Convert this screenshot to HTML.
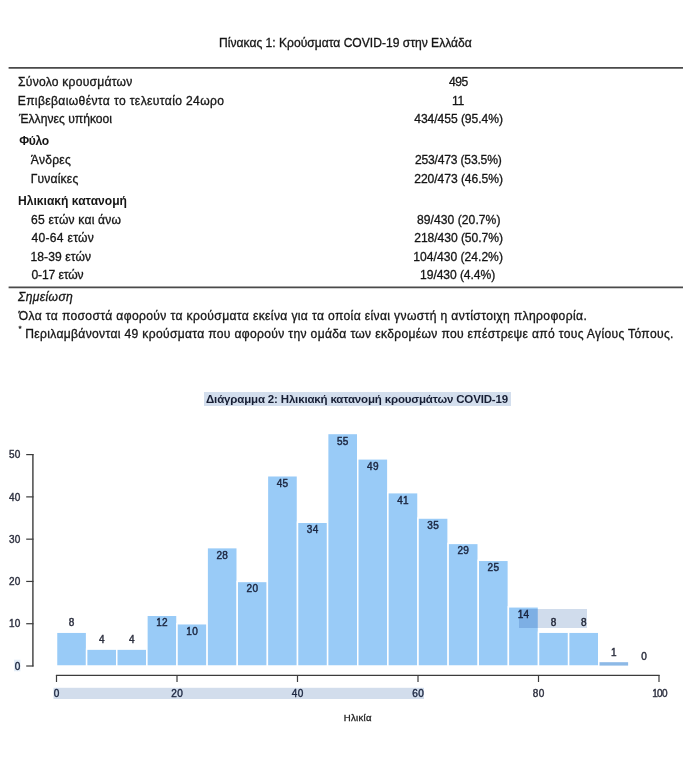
<!DOCTYPE html>
<html><head><meta charset="utf-8">
<style>
html,body{margin:0;padding:0;background:#fff;}
body{width:700px;height:774px;position:relative;overflow:hidden;font-family:"Liberation Sans",sans-serif;}
.t{position:absolute;white-space:nowrap;-webkit-text-stroke:0.3px currentColor;}
.r{position:absolute;}
</style></head><body>
<div class="t" style="left:219.10px;top:36.74px;font-size:12.1px;line-height:12.1px;letter-spacing:-0.005px;color:#151515;">Πίνακας 1: Κρούσματα COVID-19 στην Ελλάδα</div>
<svg class="r" style="left:0;top:0" width="700" height="300"><line x1="8.6" y1="67.8" x2="683" y2="67.8" stroke="#4a4a4a" stroke-width="1.7"/><line x1="8.6" y1="287.3" x2="683" y2="287.3" stroke="#4a4a4a" stroke-width="1.7"/></svg>
<div class="t" style="left:18.07px;top:75.74px;font-size:12.1px;line-height:12.1px;letter-spacing:0.239px;color:#151515;">Σύνολο κρουσμάτων</div>
<div class="t" style="left:449.00px;top:75.74px;font-size:12.1px;line-height:12.1px;letter-spacing:-0.440px;color:#151515;">495</div>
<div class="t" style="left:17.71px;top:94.74px;font-size:12.1px;line-height:12.1px;letter-spacing:0.371px;color:#151515;">Επιβεβαιωθέντα το τελευταίο 24ωρο</div>
<div class="t" style="left:452.10px;top:94.74px;font-size:12.1px;line-height:12.1px;letter-spacing:-0.300px;color:#151515;">11</div>
<div class="t" style="left:18.98px;top:113.24px;font-size:12.1px;line-height:12.1px;letter-spacing:0.029px;color:#151515;">Έλληνες υπήκοοι</div>
<div class="t" style="left:414.22px;top:113.24px;font-size:12.1px;line-height:12.1px;letter-spacing:-0.051px;color:#151515;">434/455 (95.4%)</div>
<div class="t" style="left:19.17px;top:135.18px;font-size:12.1px;line-height:12.1px;font-weight:bold;-webkit-text-stroke:0;letter-spacing:-0.330px;color:#151515;">Φύλο</div>
<div class="t" style="left:30.83px;top:153.74px;font-size:12.1px;line-height:12.1px;letter-spacing:0.234px;color:#151515;">Άνδρες</div>
<div class="t" style="left:415.00px;top:153.74px;font-size:12.1px;line-height:12.1px;letter-spacing:-0.193px;color:#151515;">253/473 (53.5%)</div>
<div class="t" style="left:30.71px;top:173.18px;font-size:12.1px;line-height:12.1px;letter-spacing:0.180px;color:#151515;">Γυναίκες</div>
<div class="t" style="left:414.22px;top:173.18px;font-size:12.1px;line-height:12.1px;letter-spacing:-0.051px;color:#151515;">220/473 (46.5%)</div>
<div class="t" style="left:18.07px;top:194.86px;font-size:12.1px;line-height:12.1px;font-weight:bold;-webkit-text-stroke:0;letter-spacing:-0.008px;color:#151515;">Ηλικιακή κατανομή</div>
<div class="t" style="left:31.05px;top:213.70px;font-size:12.1px;line-height:12.1px;letter-spacing:0.206px;color:#151515;">65 ετών και άνω</div>
<div class="t" style="left:417.00px;top:213.70px;font-size:12.1px;line-height:12.1px;letter-spacing:0.055px;color:#151515;">89/430 (20.7%)</div>
<div class="t" style="left:31.39px;top:232.22px;font-size:12.1px;line-height:12.1px;letter-spacing:0.300px;color:#151515;">40-64 ετών</div>
<div class="t" style="left:414.22px;top:232.22px;font-size:12.1px;line-height:12.1px;letter-spacing:-0.051px;color:#151515;">218/430 (50.7%)</div>
<div class="t" style="left:30.49px;top:251.16px;font-size:12.1px;line-height:12.1px;letter-spacing:0.080px;color:#151515;">18-39 ετών</div>
<div class="t" style="left:413.32px;top:251.16px;font-size:12.1px;line-height:12.1px;letter-spacing:0.013px;color:#151515;">104/430 (24.2%)</div>
<div class="t" style="left:31.39px;top:269.16px;font-size:12.1px;line-height:12.1px;letter-spacing:-0.113px;color:#151515;">0-17 ετών</div>
<div class="t" style="left:420.10px;top:269.16px;font-size:12.1px;line-height:12.1px;letter-spacing:-0.075px;color:#151515;">19/430 (4.4%)</div>
<div class="t" style="left:18.00px;top:290.96px;font-size:12.1px;line-height:12.1px;font-style:italic;letter-spacing:0.399px;color:#151515;">Σημείωση</div>
<div class="t" style="left:18.78px;top:309.74px;font-size:12.1px;line-height:12.1px;letter-spacing:0.369px;color:#151515;">Όλα τα ποσοστά αφορούν τα κρούσματα εκείνα για τα οποία είναι γνωστή η αντίστοιχη πληροφορία.</div>
<div class="t" style="left:18.60px;top:325.43px;font-size:8px;line-height:8px;color:#151515;">*</div>
<div class="t" style="left:25.20px;top:328.24px;font-size:12.1px;line-height:12.1px;letter-spacing:0.335px;color:#151515;">Περιλαμβάνονται 49 κρούσματα που αφορούν την ομάδα των εκδρομέων που επέστρεψε από τους Αγίους Τόπους.</div>
<div class="r" style="left:203.50px;top:391.70px;width:307.50px;height:14.50px;background:#d3deed;"></div>
<div class="t" style="left:206.00px;top:394.37px;font-size:11.5px;line-height:11.5px;font-weight:bold;-webkit-text-stroke:0;letter-spacing:-0.163px;color:#161d33;">Διάγραμμα 2: Ηλικιακή κατανομή κρουσμάτων COVID-19</div>
<svg class="r" style="left:0;top:0" width="700" height="774" viewBox="0 0 700 774"><rect x="56.50" y="632.18" width="30.125" height="33.82" fill="#99cbf7" stroke="#fff" stroke-width="1.5"/><rect x="86.62" y="649.09" width="30.125" height="16.91" fill="#99cbf7" stroke="#fff" stroke-width="1.5"/><rect x="116.75" y="649.09" width="30.125" height="16.91" fill="#99cbf7" stroke="#fff" stroke-width="1.5"/><rect x="146.88" y="615.26" width="30.125" height="50.74" fill="#99cbf7" stroke="#fff" stroke-width="1.5"/><rect x="177.00" y="623.72" width="30.125" height="42.28" fill="#99cbf7" stroke="#fff" stroke-width="1.5"/><rect x="207.12" y="547.62" width="30.125" height="118.38" fill="#99cbf7" stroke="#fff" stroke-width="1.5"/><rect x="237.25" y="581.44" width="30.125" height="84.56" fill="#99cbf7" stroke="#fff" stroke-width="1.5"/><rect x="267.38" y="475.74" width="30.125" height="190.26" fill="#99cbf7" stroke="#fff" stroke-width="1.5"/><rect x="297.50" y="522.25" width="30.125" height="143.75" fill="#99cbf7" stroke="#fff" stroke-width="1.5"/><rect x="327.62" y="433.46" width="30.125" height="232.54" fill="#99cbf7" stroke="#fff" stroke-width="1.5"/><rect x="357.75" y="458.83" width="30.125" height="207.17" fill="#99cbf7" stroke="#fff" stroke-width="1.5"/><rect x="387.88" y="492.65" width="30.125" height="173.35" fill="#99cbf7" stroke="#fff" stroke-width="1.5"/><rect x="418.00" y="518.02" width="30.125" height="147.98" fill="#99cbf7" stroke="#fff" stroke-width="1.5"/><rect x="448.12" y="543.39" width="30.125" height="122.61" fill="#99cbf7" stroke="#fff" stroke-width="1.5"/><rect x="478.25" y="560.30" width="30.125" height="105.70" fill="#99cbf7" stroke="#fff" stroke-width="1.5"/><rect x="508.38" y="606.81" width="30.125" height="59.19" fill="#99cbf7" stroke="#fff" stroke-width="1.5"/><rect x="538.50" y="632.18" width="30.125" height="33.82" fill="#99cbf7" stroke="#fff" stroke-width="1.5"/><rect x="568.62" y="632.18" width="30.125" height="33.82" fill="#99cbf7" stroke="#fff" stroke-width="1.5"/><rect x="599.50" y="662.2" width="28.625" height="3.4" fill="#8db9e6"/><line x1="32.9" y1="454.00" x2="32.9" y2="666.60" stroke="#3c3c3c" stroke-width="1.4"/><line x1="26.2" y1="666.00" x2="33.5" y2="666.00" stroke="#3c3c3c" stroke-width="1.2"/><line x1="26.2" y1="623.72" x2="33.5" y2="623.72" stroke="#3c3c3c" stroke-width="1.2"/><line x1="26.2" y1="581.44" x2="33.5" y2="581.44" stroke="#3c3c3c" stroke-width="1.2"/><line x1="26.2" y1="539.16" x2="33.5" y2="539.16" stroke="#3c3c3c" stroke-width="1.2"/><line x1="26.2" y1="496.88" x2="33.5" y2="496.88" stroke="#3c3c3c" stroke-width="1.2"/><line x1="26.2" y1="454.60" x2="33.5" y2="454.60" stroke="#3c3c3c" stroke-width="1.2"/><line x1="55.90" y1="675.4" x2="659.60" y2="675.4" stroke="#3c3c3c" stroke-width="1.2"/><line x1="56.50" y1="675" x2="56.50" y2="682" stroke="#3c3c3c" stroke-width="1.2"/><line x1="177.00" y1="675" x2="177.00" y2="682" stroke="#3c3c3c" stroke-width="1.2"/><line x1="297.50" y1="675" x2="297.50" y2="682" stroke="#3c3c3c" stroke-width="1.2"/><line x1="418.00" y1="675" x2="418.00" y2="682" stroke="#3c3c3c" stroke-width="1.2"/><line x1="538.50" y1="675" x2="538.50" y2="682" stroke="#3c3c3c" stroke-width="1.2"/><line x1="659.00" y1="675" x2="659.00" y2="682" stroke="#3c3c3c" stroke-width="1.2"/><rect x="53.5" y="687.8" width="370.5" height="11.2" fill="#d2ddec"/><rect x="14" y="659.7" width="6.4" height="11.6" fill="#e3edf7"/></svg>
<div class="t" style="left:0.00px;top:661.63px;font-size:10px;line-height:10px;color:#1d2741;width:20.7px;text-align:right;letter-spacing:0.3px;-webkit-text-stroke:0.4px currentColor;">0</div>
<div class="t" style="left:0.00px;top:619.36px;font-size:10px;line-height:10px;color:#2e3140;width:20.7px;text-align:right;letter-spacing:0.3px;-webkit-text-stroke:0.4px currentColor;">10</div>
<div class="t" style="left:0.00px;top:577.08px;font-size:10px;line-height:10px;color:#2e3140;width:20.7px;text-align:right;letter-spacing:0.3px;-webkit-text-stroke:0.4px currentColor;">20</div>
<div class="t" style="left:0.00px;top:534.79px;font-size:10px;line-height:10px;color:#2e3140;width:20.7px;text-align:right;letter-spacing:0.3px;-webkit-text-stroke:0.4px currentColor;">30</div>
<div class="t" style="left:0.00px;top:492.52px;font-size:10px;line-height:10px;color:#2e3140;width:20.7px;text-align:right;letter-spacing:0.3px;-webkit-text-stroke:0.4px currentColor;">40</div>
<div class="t" style="left:0.00px;top:450.24px;font-size:10px;line-height:10px;color:#2e3140;width:20.7px;text-align:right;letter-spacing:0.3px;-webkit-text-stroke:0.4px currentColor;">50</div>
<div class="t" style="left:36.65px;top:689.33px;font-size:10px;line-height:10px;color:#1d2741;width:40px;text-align:center;letter-spacing:0.3px;-webkit-text-stroke:0.4px currentColor;">0</div>
<div class="t" style="left:157.15px;top:689.33px;font-size:10px;line-height:10px;color:#1d2741;width:40px;text-align:center;letter-spacing:0.3px;-webkit-text-stroke:0.4px currentColor;">20</div>
<div class="t" style="left:277.65px;top:689.33px;font-size:10px;line-height:10px;color:#1d2741;width:40px;text-align:center;letter-spacing:0.3px;-webkit-text-stroke:0.4px currentColor;">40</div>
<div class="t" style="left:398.15px;top:689.33px;font-size:10px;line-height:10px;color:#1d2741;width:40px;text-align:center;letter-spacing:0.3px;-webkit-text-stroke:0.4px currentColor;">60</div>
<div class="t" style="left:518.65px;top:689.33px;font-size:10px;line-height:10px;color:#2e3140;width:40px;text-align:center;letter-spacing:0.3px;-webkit-text-stroke:0.4px currentColor;">80</div>
<div class="t" style="left:639.50px;top:689.33px;font-size:10px;line-height:10px;color:#2e3140;width:40px;text-align:center;letter-spacing:-0.7px;-webkit-text-stroke:0.4px currentColor;">100</div>
<div class="t" style="left:343.77px;top:712.77px;font-size:9.6px;line-height:9.6px;letter-spacing:0.288px;color:#222;">Ηλικία</div>
<div class="t" style="left:51.71px;top:618.11px;font-size:10px;line-height:10px;color:#2e3140;width:40px;text-align:center;letter-spacing:0.3px;-webkit-text-stroke:0.45px currentColor;">8</div>
<div class="t" style="left:81.84px;top:635.02px;font-size:10px;line-height:10px;color:#2e3140;width:40px;text-align:center;letter-spacing:0.3px;-webkit-text-stroke:0.45px currentColor;">4</div>
<div class="t" style="left:111.96px;top:635.02px;font-size:10px;line-height:10px;color:#2e3140;width:40px;text-align:center;letter-spacing:0.3px;-webkit-text-stroke:0.45px currentColor;">4</div>
<div class="t" style="left:142.09px;top:618.30px;font-size:10px;line-height:10px;color:#1d2741;width:40px;text-align:center;letter-spacing:0.3px;-webkit-text-stroke:0.45px currentColor;">12</div>
<div class="t" style="left:172.21px;top:626.75px;font-size:10px;line-height:10px;color:#1d2741;width:40px;text-align:center;letter-spacing:0.3px;-webkit-text-stroke:0.45px currentColor;">10</div>
<div class="t" style="left:202.34px;top:550.65px;font-size:10px;line-height:10px;color:#1d2741;width:40px;text-align:center;letter-spacing:0.3px;-webkit-text-stroke:0.45px currentColor;">28</div>
<div class="t" style="left:232.46px;top:584.48px;font-size:10px;line-height:10px;color:#1d2741;width:40px;text-align:center;letter-spacing:0.3px;-webkit-text-stroke:0.45px currentColor;">20</div>
<div class="t" style="left:262.59px;top:478.78px;font-size:10px;line-height:10px;color:#1d2741;width:40px;text-align:center;letter-spacing:0.3px;-webkit-text-stroke:0.45px currentColor;">45</div>
<div class="t" style="left:292.71px;top:525.28px;font-size:10px;line-height:10px;color:#1d2741;width:40px;text-align:center;letter-spacing:0.3px;-webkit-text-stroke:0.45px currentColor;">34</div>
<div class="t" style="left:322.84px;top:436.50px;font-size:10px;line-height:10px;color:#1d2741;width:40px;text-align:center;letter-spacing:0.3px;-webkit-text-stroke:0.45px currentColor;">55</div>
<div class="t" style="left:352.96px;top:461.86px;font-size:10px;line-height:10px;color:#1d2741;width:40px;text-align:center;letter-spacing:0.3px;-webkit-text-stroke:0.45px currentColor;">49</div>
<div class="t" style="left:383.09px;top:495.69px;font-size:10px;line-height:10px;color:#1d2741;width:40px;text-align:center;letter-spacing:0.3px;-webkit-text-stroke:0.45px currentColor;">41</div>
<div class="t" style="left:413.21px;top:521.05px;font-size:10px;line-height:10px;color:#1d2741;width:40px;text-align:center;letter-spacing:0.3px;-webkit-text-stroke:0.45px currentColor;">35</div>
<div class="t" style="left:443.34px;top:546.42px;font-size:10px;line-height:10px;color:#1d2741;width:40px;text-align:center;letter-spacing:0.3px;-webkit-text-stroke:0.45px currentColor;">29</div>
<div class="t" style="left:473.46px;top:563.33px;font-size:10px;line-height:10px;color:#1d2741;width:40px;text-align:center;letter-spacing:0.3px;-webkit-text-stroke:0.45px currentColor;">25</div>
<div class="t" style="left:503.59px;top:609.84px;font-size:10px;line-height:10px;color:#1d2741;width:40px;text-align:center;letter-spacing:0.3px;-webkit-text-stroke:0.45px currentColor;">14</div>
<div class="t" style="left:533.71px;top:618.11px;font-size:10px;line-height:10px;color:#2e3140;width:40px;text-align:center;letter-spacing:0.3px;-webkit-text-stroke:0.45px currentColor;">8</div>
<div class="t" style="left:563.84px;top:618.11px;font-size:10px;line-height:10px;color:#2e3140;width:40px;text-align:center;letter-spacing:0.3px;-webkit-text-stroke:0.45px currentColor;">8</div>
<div class="t" style="left:593.96px;top:647.71px;font-size:10px;line-height:10px;color:#2e3140;width:40px;text-align:center;letter-spacing:0.3px;-webkit-text-stroke:0.45px currentColor;">1</div>
<div class="t" style="left:624.09px;top:651.93px;font-size:10px;line-height:10px;color:#2e3140;width:40px;text-align:center;letter-spacing:0.3px;-webkit-text-stroke:0.45px currentColor;">0</div>
<div class="r" style="left:519px;top:609.3px;width:67.6px;height:18.7px;background:#d0dcec;mix-blend-mode:multiply;"></div>
</body></html>
